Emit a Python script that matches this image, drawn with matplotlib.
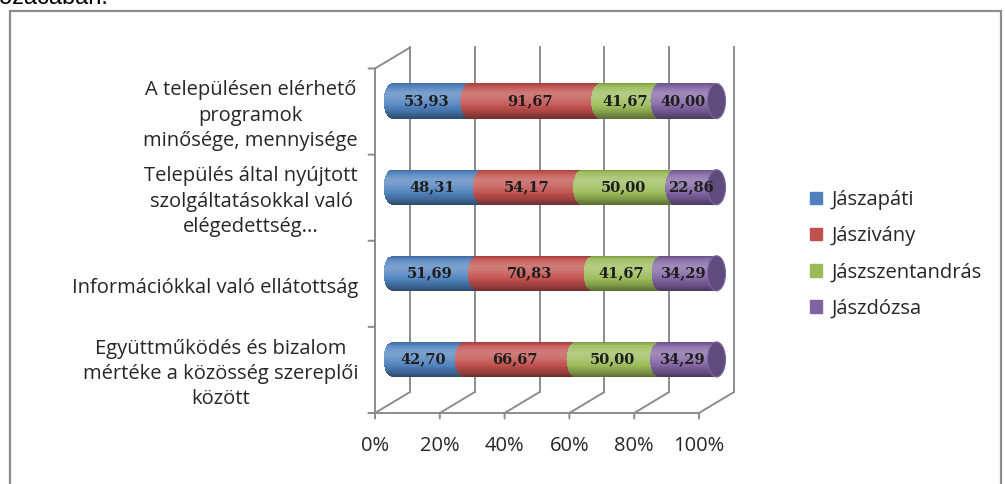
#!/usr/bin/env python3
"""
Satisfaction survey: 100% stacked 3D-style cylinder bars per settlement.
"""

import numpy as np
import matplotlib.pyplot as plt
from matplotlib.patches import Ellipse, Patch, Rectangle, ConnectionPatch
from matplotlib.transforms import ScaledTranslation
from matplotlib.colors import to_rgb

# --- data (bottom row first) ---
categories = [
    'Együttműködés és bizalom\nmértéke a közösség szereplői\nközött',
    'Információkkal való ellátottság',
    'Település által nyújtott\nszolgáltatásokkal való\nelégedettség...',
    'A településen elérhető\nprogramok\nminősége, mennyisége',
]
series_names = ['Jászapáti', 'Jászivány', 'Jászszentandrás', 'Jászdózsa']
jaszapati = [42.70, 51.69, 48.31, 53.93]
jaszivany = [66.67, 70.83, 54.17, 91.67]
jaszszentandras = [50.00, 41.67, 50.00, 41.67]
jaszdozsa = [34.29, 34.29, 22.86, 40.00]
series_colors = ['#4F81BD', '#C0504D', '#9BBB59', '#8064A2']
x_ticks = [0, 20, 40, 60, 80, 100]
x_tick_labels = ['0%', '20%', '40%', '60%', '80%', '100%']

values = np.array([jaszapati, jaszivany, jaszszentandras, jaszdozsa])
shares = values / values.sum(axis=0) * 100
lefts = np.vstack([np.zeros(len(categories)), np.cumsum(shares, axis=0)[:-1]])
ypos = np.arange(len(categories))

W, H = 1005, 484
fig = plt.figure(figsize=(W / 100, H / 100), dpi=100)
ax = fig.add_axes([392.5 / W, (H - 402.5) / H, 324 / W, 344.5 / H])
ax.set_xlim(0, 100)
ax.set_ylim(-0.5, 3.5)
ax.axis('off')

label_font = 'Open Sans'
label_size = 14.5


def shifted(dx_px, dy_px):
    return ax.transData + ScaledTranslation(dx_px / 100, dy_px / 100, fig.dpi_scale_trans)


back = shifted(17.5, 10.5)
front = shifted(-17.5, -10.5)
grid_color = '#8c8c8c'


def seg(p, ta, q, tb):
    cp = ConnectionPatch(xyA=p, coordsA=ta, xyB=q, coordsB=tb,
                         color=grid_color, lw=1.4, zorder=1)
    fig.add_artist(cp)


# back wall gridlines + floor slants + front ticks
for x in x_ticks:
    ax.plot([x, x], [-0.5, 3.5], transform=back, color=grid_color, lw=1.4,
            clip_on=False, zorder=1)
    seg((x, -0.5), front, (x, -0.5), back)
    seg((x, -0.5), front, (x, -0.5), shifted(-17.5, -16))
# left wall
seg((0, -0.5), front, (0, 3.5), front)
seg((0, 3.5), front, (0, 3.5), back)
seg((0, -0.5), shifted(-24, -10.5), (100, -0.5), front)
for y in np.arange(-0.5, 4.0, 1.0):
    seg((0, y), front, (0, y), shifted(-24, -10.5))

# --- cylinders, drawn as thin shaded strips ---
bar_h = 35 / 86
cap_a = 9 / 3.24
n_strips = 40


def shade(color, t):
    r = np.array(to_rgb(color))
    if t < 0.68:
        b = 0.24 - 0.66 * ((0.68 - t) / 0.68) ** 1.5
    else:
        b = 0.24 - 0.42 * ((t - 0.68) / 0.32) ** 2
    if b >= 0:
        return tuple(r + (1 - r) * b)
    return tuple(r * (1 + b))


dh = bar_h / n_strips
for k in range(n_strips):
    t = (k + 0.5) / n_strips
    u = 2 * t - 1
    off = cap_a * np.sqrt(max(0.0, 1 - u * u))
    yc = ypos - bar_h / 2 + (k + 0.5) * dh
    for i, color in enumerate(series_colors):
        ax.barh(yc, shares[i], left=lefts[i] - off, height=dh * 1.15,
                color=shade(color, t), linewidth=0, antialiased=False,
                zorder=2, clip_on=False)

for y in ypos:
    ax.add_patch(Ellipse((100, y), 2 * cap_a, bar_h, facecolor='#5F4B7C',
                         edgecolor='#7a66a0', lw=0.8, zorder=3, clip_on=False))

# value labels
for i in range(len(series_names)):
    for j, y in enumerate(ypos):
        ax.text(lefts[i][j] + shares[i][j] / 2 - 1.5, y,
                f'{values[i][j]:.2f}'.replace('.', ','),
                ha='center', va='center', fontsize=10.5, family='DejaVu Serif',
                weight='bold', color='#1e1e1e', zorder=4)

# category labels
for y, cat in zip(ypos, categories):
    ax.text(0, y, cat, transform=shifted(-34.5, -14.5), ha='right', va='center',
            multialignment='center', fontsize=label_size, family=label_font,
            color='#262626', linespacing=1.36)

# x tick labels
for x, lab in zip(x_ticks, x_tick_labels):
    ax.text(x, -0.5, lab, transform=shifted(-17.5, -43.5), ha='center',
            va='center', fontsize=label_size, family=label_font, color='#262626')

# legend
handles = [Patch(facecolor=c, edgecolor=c) for c in series_colors]
fig.legend(handles, series_names, loc='upper left',
           bbox_to_anchor=(810 / W, 1 - 190 / H), frameon=False,
           prop={'family': label_font, 'size': label_size}, handlelength=0.6,
           handleheight=0.6, handletextpad=0.45, labelspacing=0.8,
           borderpad=0, borderaxespad=0, labelcolor='#262626')

# chart frame and cut-off heading text above it
fig.add_artist(Rectangle((10 / W, -0.1), (1001 - 10) / W, 1.1 - 11 / H,
                         transform=fig.transFigure, fill=False,
                         edgecolor='#8c8c8c', lw=1.6))
fig.text(-1 / W, 1 - 3.5 / H, 'ozácában.', fontsize=17, family='Liberation Sans',
         va='baseline', ha='left', color='black')

fig.savefig('out.png', dpi=100)
